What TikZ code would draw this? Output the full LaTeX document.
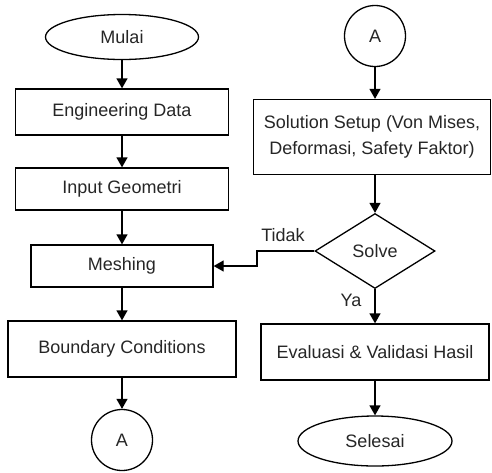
\documentclass[tikz,border=0pt]{standalone}
\usepackage{fontspec}
\setmainfont{Liberation Sans}
\usetikzlibrary{shapes.geometric,arrows.meta}
\begin{document}
\begin{tikzpicture}[x=1pt,y=-1pt,
  every node/.style={font=\fontsize{18}{26}\selectfont, text=black!85},
  boxnode/.style={draw, line width=1.3pt, rectangle, inner sep=0pt, align=center},
  ellnode/.style={draw, line width=1.3pt, ellipse, inner sep=0pt},
  circnode/.style={draw, line width=1.3pt, circle, inner sep=0pt, minimum size=61pt},
  decnode/.style={draw, line width=1.3pt, diamond, inner sep=0pt, minimum width=120pt, minimum height=75pt},
  lbl/.style={inner sep=0pt},
  conn/.style={line width=1.3pt, -{Triangle[length=10pt,width=11pt]}}
]
\useasboundingbox (0,0) rectangle (492,472);
\node[ellnode, minimum width=153pt, minimum height=45pt] (mulai) at (122,37) {Mulai};
\node[boxnode, minimum width=213pt, minimum height=46pt] (eng) at (122,112) {Engineering Data};
\node[boxnode, minimum width=213pt, minimum height=42pt] (inp) at (122,189) {Input Geometri};
\node[boxnode, minimum width=182pt, minimum height=42pt] (mesh) at (122,266) {Meshing};
\node[boxnode, minimum width=228pt, minimum height=56pt] (bc) at (122,349) {Boundary Conditions};
\node[circnode] (a1) at (122,440) {A};

\node[circnode] (a2) at (375,36) {A};
\node[boxnode, minimum width=237pt, minimum height=75pt] (sol) at (372,137) {Solution Setup (Von Mises,\\Deformasi, Safety Faktor)};
\node[decnode] (solve) at (375,251) {Solve};
\node[boxnode, minimum width=228pt, minimum height=56pt] (eval) at (375,352) {Evaluasi \& Validasi Hasil};
\node[ellnode, minimum width=154pt, minimum height=50pt] (sel) at (375,441) {Selesai};

\node[lbl] (tidak) at (283,235) {Tidak};
\node[lbl] (ya) at (351,300) {Ya};
\coordinate (k) at (257,0);

\draw[conn] (mulai) -- (eng);
\draw[conn] (eng) -- (inp);
\draw[conn] (inp) -- (mesh);
\draw[conn] (mesh) -- (bc);
\draw[conn] (bc) -- (a1);
\draw[conn] (a2.south) -- (a2.south |- sol.north);
\draw[conn] (solve.north |- sol.south) -- (solve.north);
\draw[conn] (solve) -- (eval);
\draw[conn] (eval) -- (sel);
\draw[conn] (solve.west) -- (solve.west -| k) -- (k |- mesh.east) -- (mesh.east);
\end{tikzpicture}
\end{document}
